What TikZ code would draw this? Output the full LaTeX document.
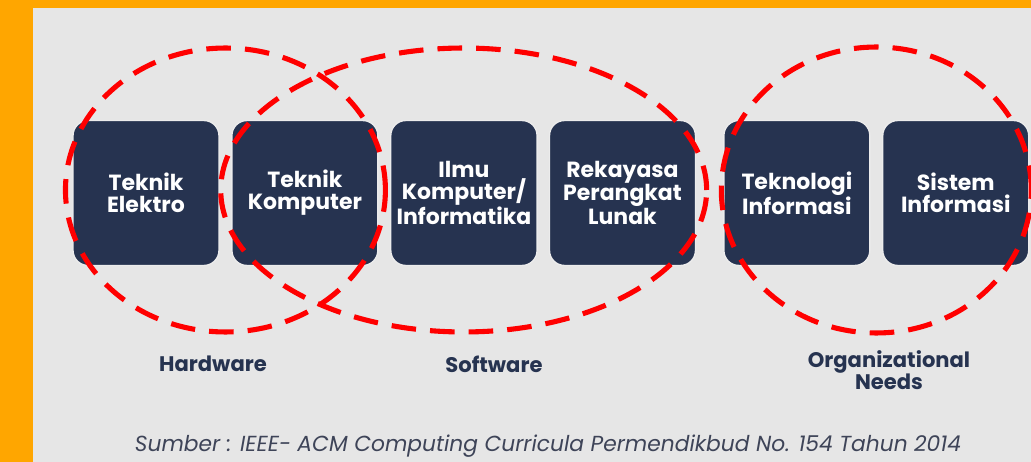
\documentclass[tikz,border=0pt]{standalone}
\usepackage{fontspec}
\setmainfont{Poppins}
\usepackage{tikz}
\usetikzlibrary{positioning,calc}

\definecolor{navy}{HTML}{263350}
\definecolor{frame}{HTML}{FFA600}
\definecolor{paper}{HTML}{E6E6E6}
\definecolor{srcgray}{HTML}{3E4458}

\begin{document}
\begin{tikzpicture}[x=0.02cm,y=-0.02cm,node distance=0.23cm]
  % Styles
  \tikzstyle{field}=[draw=white!85!gray,line width=0.8pt,fill=navy,rounded corners=0.3cm,
    minimum width=2.92cm,minimum height=2.9cm,align=center,text=white,
    font=\bfseries\fontsize{12.5}{12.5}\selectfont]
  \tikzstyle{group}=[draw=red,line width=2.9pt,dash pattern=on 14pt off 8pt]
  \tikzstyle{area}=[text=navy,align=center,font=\bfseries\fontsize{12}{12.5}\selectfont]

  % Frame
  \useasboundingbox (0,0) rectangle (1031,462);
  \fill[frame] (0,0) rectangle (1031,462);
  \fill[paper] (33,8) rectangle (1031,462);

  % Nodes
  \node[field] (te) at (146,193) {Teknik\\Elektro};
  \node[field,right=of te] (tk) {Teknik\\Komputer};
  \node[field,right=of tk] (ilkom) {Ilmu\\Komputer/\\Informatika};
  \node[field,right=0.22cm of ilkom] (rpl) {Rekayasa\\Perangkat\\Lunak};
  \node[field,right=0.54cm of rpl] (ti) {Teknologi\\Informasi};
  \node[field,right=of ti] (si) {Sistem\\Informasi};

  % Groups
  \draw[group] ($(te.center)!0.5!(tk.center)+(0,-3)$) ellipse [x radius=3.2cm,y radius=2.84cm];
  \draw[group] ($(tk.center)!0.5!(rpl.center)+(0,-3)$) ellipse [x radius=4.86cm,y radius=2.84cm];
  \draw[group] ($(ti.center)!0.5!(si.center)+(0,-3)$) ellipse [x radius=3.1cm,y radius=2.86cm];

  % Labels
  \node[area] (hw) at (213,364) {Hardware};
  \node[area] (sw) at (494,364) {Software};
  \node[area] (org) at (889,370) {Organizational\\Needs};
  \node[text=srcgray,font=\itshape\fontsize{12.4}{14}\selectfont] (src) at (548,446)
    {Sumber : IEEE- ACM Computing Curricula Permendikbud No. 154 Tahun 2014};
\end{tikzpicture}
\end{document}
